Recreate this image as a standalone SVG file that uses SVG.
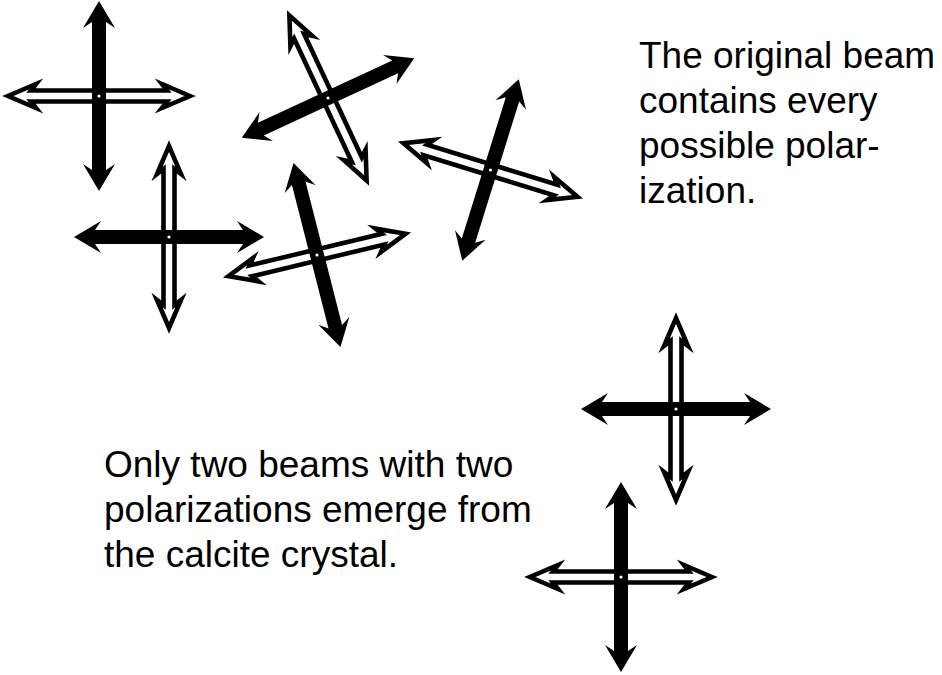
<svg xmlns="http://www.w3.org/2000/svg" xmlns:xlink="http://www.w3.org/1999/xlink" width="942" height="675" viewBox="0 0 942 675">
<style>
.lbl{font-family:"Liberation Sans",Arial,Helvetica,sans-serif;font-size:37px;fill:#000}
.blk{fill:#000}
.hol{fill:#fff;stroke:#000;stroke-width:4.6;stroke-linejoin:miter;stroke-miterlimit:10}
.dot{fill:#fff}
</style>
<defs>
<path id="blkArrow" class="blk" d="M95,0 L68,-16 L74,-7 L-74,-7 L-68,-16 L-95,0 L-68,16 L-74,7 L74,7 L68,16 Z"/>
<path id="holArrow" class="hol" d="M91,0 L63,-12 L68,-5.5 L-68,-5.5 L-63,-12 L-91,0 L-63,12 L-68,5.5 L68,5.5 L63,12 Z"/>
</defs>
<rect width="942" height="675" fill="#fff"/>
<g id="cross1" transform="translate(99,96)">
<use xlink:href="#holArrow" href="#holArrow" transform="rotate(0)"/>
<use xlink:href="#blkArrow" href="#blkArrow" transform="rotate(90)"/>
<circle class="dot" r="1.6"/>
</g>
<g id="cross2" transform="translate(328,98)">
<use xlink:href="#holArrow" href="#holArrow" transform="rotate(64.9)"/>
<use xlink:href="#blkArrow" href="#blkArrow" transform="rotate(-24.8)"/>
<circle class="dot" r="1.6"/>
</g>
<g id="cross3" transform="translate(490.5,170)">
<use xlink:href="#holArrow" href="#holArrow" transform="rotate(17.1)"/>
<use xlink:href="#blkArrow" href="#blkArrow" transform="rotate(107.3)"/>
<circle class="dot" r="1.6"/>
</g>
<g id="cross4" transform="translate(169,237)">
<use xlink:href="#holArrow" href="#holArrow" transform="rotate(90)"/>
<use xlink:href="#blkArrow" href="#blkArrow" transform="rotate(0)"/>
<circle class="dot" r="1.6"/>
</g>
<g id="cross5" transform="translate(317,255)">
<use xlink:href="#holArrow" href="#holArrow" transform="rotate(-13.5)"/>
<use xlink:href="#blkArrow" href="#blkArrow" transform="rotate(75.7)"/>
<circle class="dot" r="1.6"/>
</g>
<g id="cross6" transform="translate(676,409)">
<use xlink:href="#holArrow" href="#holArrow" transform="rotate(90)"/>
<use xlink:href="#blkArrow" href="#blkArrow" transform="rotate(0)"/>
<circle class="dot" r="1.6"/>
</g>
<g id="cross7" transform="translate(621,577)">
<use xlink:href="#holArrow" href="#holArrow" transform="rotate(0)"/>
<use xlink:href="#blkArrow" href="#blkArrow" transform="rotate(90)"/>
<circle class="dot" r="1.6"/>
</g>
<g id="connectors"/>
<g id="label-top">
<text class="lbl" x="639" y="68">The original beam</text>
<text class="lbl" x="639" y="113">contains every</text>
<text class="lbl" x="639" y="158">possible polar-</text>
<text class="lbl" x="639" y="203">ization.</text>
</g>
<g id="label-bottom">
<text class="lbl" x="104" y="477">Only two beams with two</text>
<text class="lbl" x="104" y="522">polarizations emerge from</text>
<text class="lbl" x="104" y="567">the calcite crystal.</text>
</g>
</svg>
